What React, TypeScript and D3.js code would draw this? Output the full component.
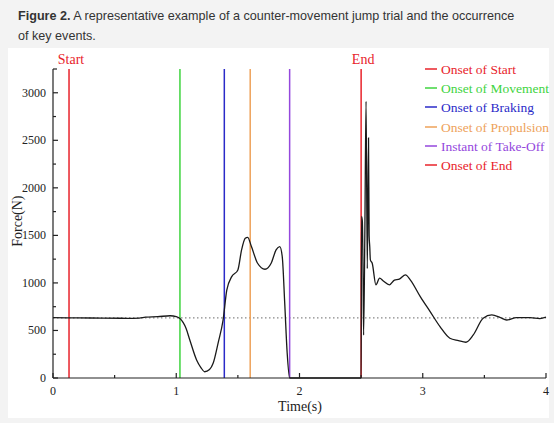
import * as React from 'react';
import * as d3 from 'd3';

// force trace (time in s, force in N)
const times = [
  0, 0.2, 0.4, 0.6, 0.7, 0.75, 0.85, 0.95, 1.0, 1.03, 1.08, 1.11, 1.165, 1.2, 1.23, 1.27, 1.3, 1.34, 1.38,
  1.41, 1.45, 1.5, 1.53, 1.56, 1.58, 1.61, 1.66, 1.72, 1.77, 1.81, 1.84, 1.86, 1.88, 1.9, 1.92,
  2.2, 2.5, 2.503, 2.51, 2.515, 2.52, 2.53, 2.54, 2.55, 2.56, 2.565, 2.57, 2.575, 2.59, 2.62,
  2.65, 2.68, 2.73, 2.77, 2.81, 2.86, 2.9, 2.98, 3.06, 3.14, 3.22, 3.29, 3.35, 3.41, 3.49, 3.56,
  3.63, 3.68, 3.76, 3.87, 3.95, 4.0,
];
const forces = [
  635, 632, 630, 628, 630, 640, 645, 655, 645, 625, 520, 400, 190, 110, 66, 90, 158, 370, 610,
  925, 1066, 1137, 1347, 1470, 1480, 1382, 1207, 1144, 1207, 1347, 1382, 1277, 790, 263, 0,
  0, 0, 1700, 1650, 1200, 450, 1500, 2910, 1150, 2525, 1500, 1382, 1242, 1207, 980,
  1050, 1020, 980, 1030, 1040, 1085, 1030, 856, 698, 540, 418, 393, 376, 453, 628, 663,
  635, 610, 635, 635, 625, 640,
];
const bodyWeight = 632;

const eventNames = ['Onset of Start', 'Onset of Movement', 'Onset of Braking', 'Onset of Propulsion', 'Instant of Take-Off', 'Onset of End'];
const eventTimes = [0.13, 1.03, 1.39, 1.6, 1.92, 2.5];
const eventColors = ['#e8232b', '#3fd43f', '#2b2bc8', '#eea25a', '#9447dd', '#e8232b'];
const eventTags = ['Start', '', '', '', '', 'End'];

const xTicks = [0, 1, 2, 3, 4];
const yTicks = [0, 500, 1000, 1500, 2000, 2500, 3000];

const W = 554, H = 423;
const serif = '"Liberation Serif", "Times New Roman", serif';

export default function App() {
  const x = d3.scaleLinear().domain([0, 4]).range([53, 546]);
  const y = d3.scaleLinear().domain([0, 3250]).range([378, 69]);
  const pts: [number, number][] = times.map((t, i) => [t, forces[i]]);
  const line = d3.line<[number, number]>()
    .x(d => x(d[0]))
    .y(d => y(d[1]))
    .curve(d3.curveMonotoneX);
  const minorX = d3.range(0.5, 4, 1);
  const minorY = d3.range(250, 3250, 500);

  return (
    <div style={{ position: 'absolute', left: 0, top: 0, width: W, height: H }}>
      <svg width={W} height={H} style={{ display: 'block' }}>
        <rect x={0} y={0} width={W} height={H} fill="#f3f3f3" />
        <text x={18} y={20} fontFamily='"Liberation Sans", Arial, sans-serif' fontSize={12.6} fill="#333">
          <tspan fontWeight="bold">Figure 2.</tspan> A representative example of a counter-movement jump trial and the occurrence
        </text>
        <text x={18} y={40} fontFamily='"Liberation Sans", Arial, sans-serif' fontSize={12.6} fill="#333">of key events.</text>
        <rect x={8} y={48} width={541} height={370} fill="#fff" />

        {/* body weight reference */}
        <line x1={x(0)} x2={x(4)} y1={y(bodyWeight)} y2={y(bodyWeight)} stroke="#888" strokeWidth={1.2} strokeDasharray="1.5,2.5" />

        {/* event lines */}
        {eventTimes.map((t, i) => (
          <line key={i} x1={x(t)} x2={x(t)} y1={y(0)} y2={y(3250)} stroke={eventColors[i]} strokeWidth={1.5} />
        ))}
        {eventTimes.map((t, i) => eventTags[i] ? (
          <text key={'t' + i} x={x(t) + 2} y={64} textAnchor="middle" fontFamily={serif} fontSize={14} fill={eventColors[i]}>{eventTags[i]}</text>
        ) : null)}

        <path d={line(pts) || ''} fill="none" stroke="#1a1a1a" strokeWidth={1.3} />

        {/* axes */}
        <g stroke="#222" strokeWidth={1.2}>
          <line x1={x(0)} x2={x(0)} y1={y(0)} y2={y(3250)} />
          <line x1={x(0)} x2={x(4)} y1={y(0)} y2={y(0)} />
          <line x1={x(0)} x2={x(0) + 4} y1={y(3250)} y2={y(3250)} />
          {yTicks.map(v => <line key={v} x1={x(0)} x2={x(0) + 5} y1={y(v)} y2={y(v)} />)}
          {minorY.map(v => <line key={'m' + v} x1={x(0)} x2={x(0) + 3} y1={y(v)} y2={y(v)} />)}
          {xTicks.map(v => <line key={v} x1={x(v)} x2={x(v)} y1={y(0)} y2={y(0) - 5} />)}
          {minorX.map(v => <line key={'m' + v} x1={x(v)} x2={x(v)} y1={y(0)} y2={y(0) - 3} />)}
        </g>
        <g fontFamily={serif} fontSize={12} fill="#222">
          {yTicks.map(v => (
            <text key={v} x={x(0) - 7} y={y(v) + 4} textAnchor="end">{v}</text>
          ))}
          {xTicks.map(v => (
            <text key={v} x={x(v)} y={y(0) + 17} textAnchor="middle">{v}</text>
          ))}
        </g>
        <text x={300} y={411} textAnchor="middle" fontFamily={serif} fontSize={14} fill="#222">Time(s)</text>
        <text transform={`translate(22,${y(1650)}) rotate(-90)`} textAnchor="middle" fontFamily={serif} fontSize={14} fill="#222">Force(N)</text>

        {/* legend */}
        {eventNames.map((n, i) => {
          const ly = [69, 88, 107, 127, 146, 165][i];
          return (
            <g key={n}>
              <line x1={425} x2={437} y1={ly} y2={ly} stroke={eventColors[i]} strokeWidth={1.5} />
              <text x={441} y={ly + 4.5} fontFamily={serif} fontSize={13.5} fill={eventColors[i]}>{n}</text>
            </g>
          );
        })}
      </svg>
    </div>
  );
}
